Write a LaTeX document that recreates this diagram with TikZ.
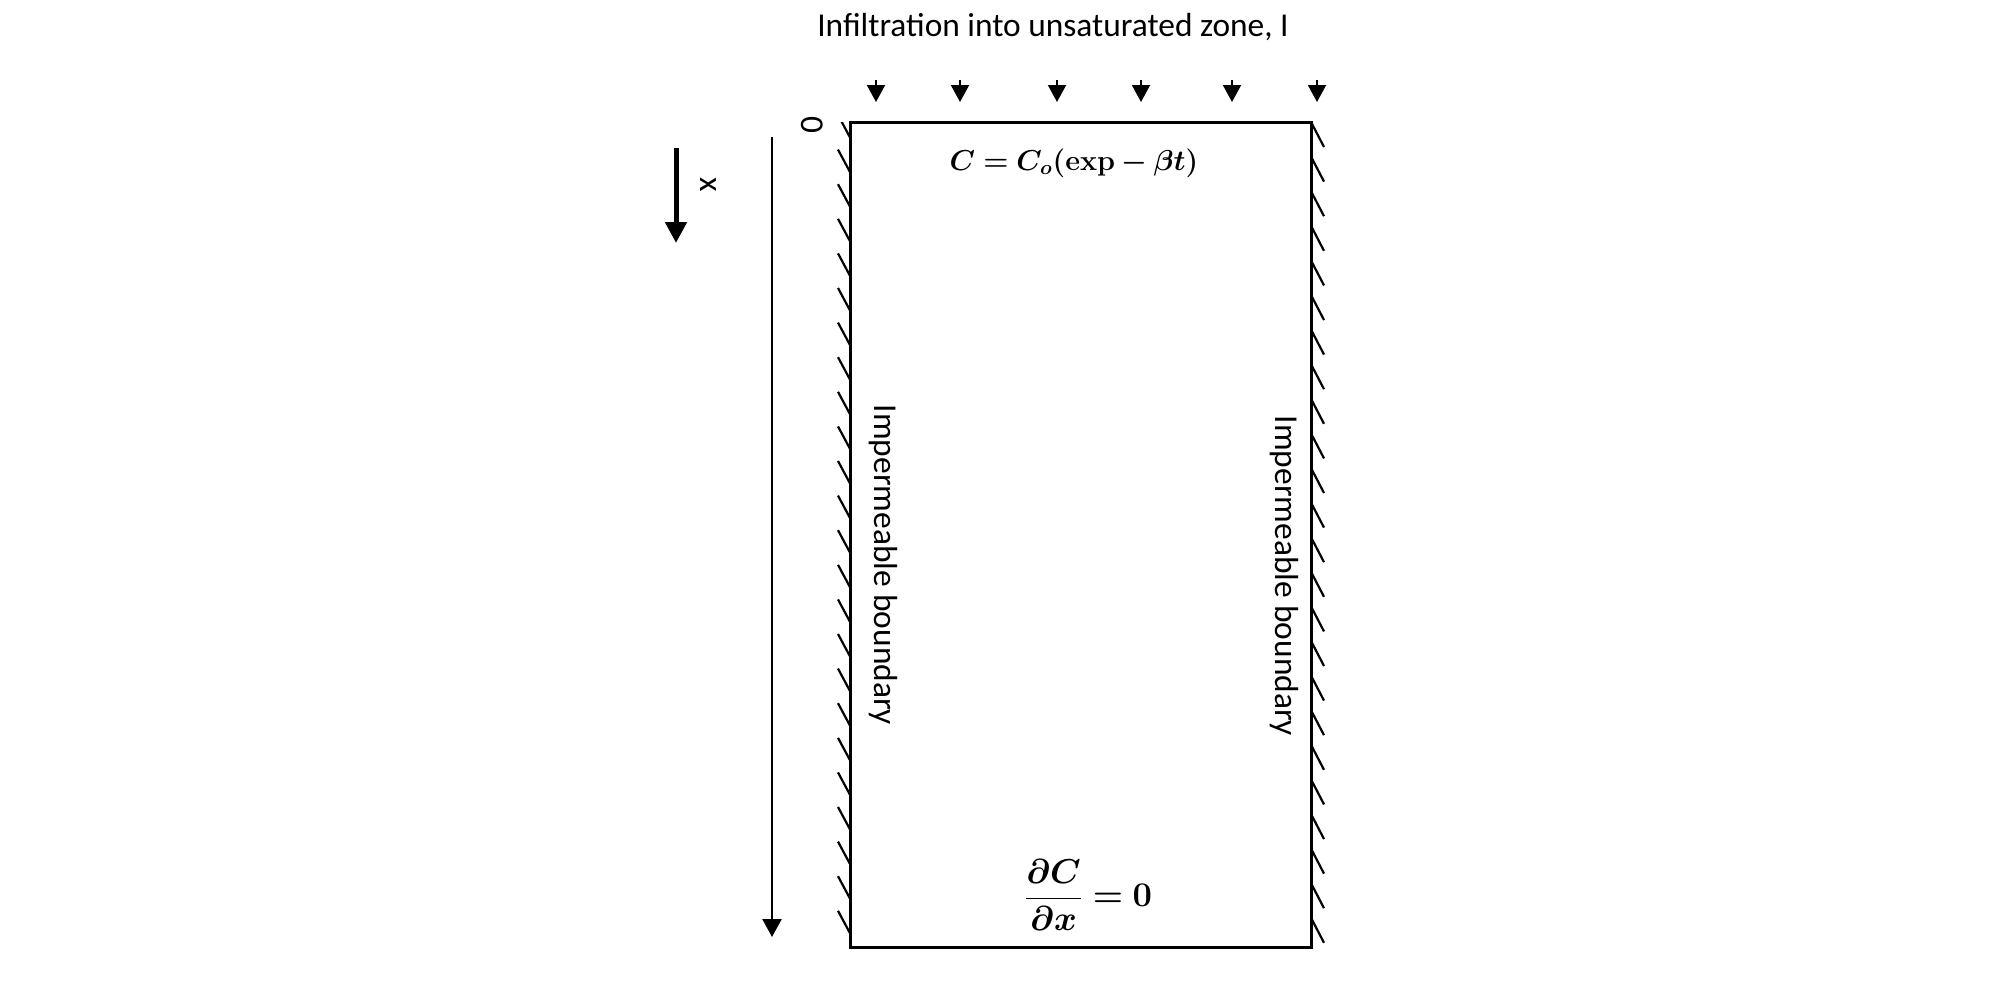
\documentclass[tikz,border=0pt]{standalone}
\usepackage{amsmath}
\usepackage{bm}
\usepackage[no-math]{fontspec}
\setmainfont{Carlito}
\usetikzlibrary{arrows.meta}

\tikzset{
  wall/.style={line width=1.5pt},
  hatch/.style={line width=1.1pt},
  lbl/.style={font=\fontsize{16.7}{20}\selectfont, inner sep=0pt},
  eqn/.style={font=\fontsize{14}{17}\selectfont, inner sep=0pt},
  inflow/.style={line width=1pt, -{Triangle[length=8.5pt,width=9pt]}},
}

\begin{document}
\begin{tikzpicture}[x=0.5pt,y=-0.5pt]
            \useasboundingbox (0,0) rectangle (2008,980);

            \coordinate (TL) at (850,122);
            \coordinate (BR) at (1311,947);
            \draw[wall] (TL) rectangle (BR);

            \begin{scope}
                \clip (820,122) rectangle (860,960);
                \foreach \k in {0,...,23}
                    \draw[hatch] (838,{115+34.6*\k}) -- (850,{137.4+34.6*\k});
            \end{scope}
            \foreach \k in {0,...,23}
                \draw[hatch] (1311,{122+34.6*\k}) -- (1324,{147+34.6*\k});

            \foreach \x [count=\i] in {876,960,1057,1141,1232,1317} {
                \coordinate (in\i) at (\x,80);
                \coordinate (out\i) at (\x,102);
                \draw[inflow] (in\i) -- (out\i);
            }

            \coordinate (ax0) at (772,137);
            \coordinate (ax1) at (772,937);
            \draw[line width=1.2pt, -{Triangle[length=9pt,width=9.5pt]}] (ax0) -- (ax1);

            \coordinate (dir0) at (676,148);
            \coordinate (dir1) at (676,243);
            \draw[line width=2.5pt, -{Triangle[length=10.5pt,width=10.5pt]}] (dir0) -- (dir1);

            \begin{scope}[every node/.style={lbl}]
                \node (title) at (1053,27) {Infiltration into unsaturated zone, I};
                \node[rotate=-90] (zero) at (812,125) {0};
                \node[rotate=-90] (xdir) at (708,185) {x};
                \node[rotate=-90] (leftwall) at (883,565) {Impermeable boundary};
                \node[rotate=-90] (rightwall) at (1284,576) {Impermeable boundary};
            \end{scope}

            \node[eqn] (topbc) at (1074,163) {$\bm{C = C_o(}\mathbf{exp}\bm{- \beta t)}$};
            \node[eqn, font=\fontsize{16}{19}\selectfont] (botbc) at (1088,895)
                {$\dfrac{\bm{\partial C}}{\bm{\partial x}} \bm{=} \mathbf{0}$};
\end{tikzpicture}
\end{document}
